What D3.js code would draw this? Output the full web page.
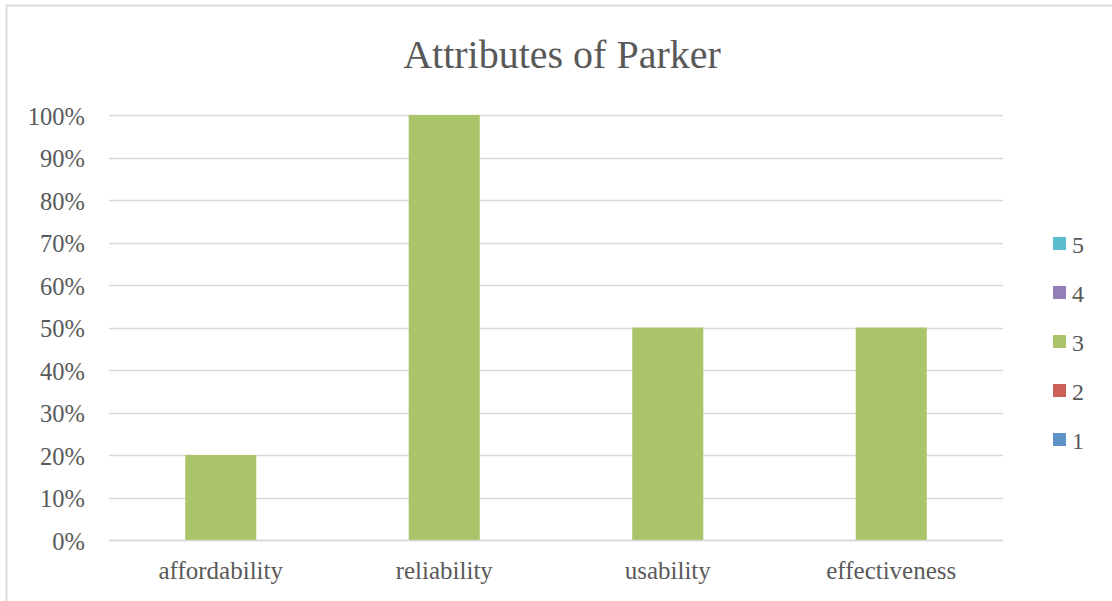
<!DOCTYPE html>
<html>
<head>
<meta charset="utf-8">
<script src="https://cdn.jsdelivr.net/npm/d3@7"></script>
<style>
  html, body { margin: 0; padding: 0; background: #fff; }
  svg { display: block; }
  text { font-family: "Liberation Serif", "DejaVu Serif", serif; fill: #595959; }
</style>
</head>
<body>
<svg id="chart" width="1112" height="601"></svg>
<script>
const title = "Attributes of Parker";
const categories = ["affordability", "reliability", "usability", "effectiveness"];
const seriesNames = ["1", "2", "3", "4", "5"];
const series1 = [0, 0, 0, 0];
const series2 = [0, 0, 0, 0];
const series3 = [0.20, 1.00, 0.50, 0.50];
const series4 = [0, 0, 0, 0];
const series5 = [0, 0, 0, 0];
const yTicks = [0, 0.1, 0.2, 0.3, 0.4, 0.5, 0.6, 0.7, 0.8, 0.9, 1.0];
const colors = ["#5E93C8", "#CC6158", "#AAC46A", "#9480B8", "#5BBCD0"];

const allSeries = [series1, series2, series3, series4, series5];
const rows = categories.map((c, i) => {
  const r = { cat: c };
  seriesNames.forEach((s, j) => r[s] = allSeries[j][i]);
  return r;
});
const stacked = d3.stack().keys(seriesNames)(rows);

const svg = d3.select("#chart");
const W = 1112, H = 601;
const plot = { left: 109, right: 1003, top: 115, bottom: 540 };

// outer border (chart area frame)
svg.append("rect")
  .attr("x", 6.5).attr("y", 5.5)
  .attr("width", W + 10).attr("height", H + 10)
  .attr("fill", "none").attr("stroke", "#dedede").attr("stroke-width", 2);

const x = d3.scaleBand().domain(categories)
  .range([plot.left, plot.right])
  .paddingInner(0.682).paddingOuter(0.341);
const y = d3.scaleLinear().domain([0, 1]).range([plot.bottom, plot.top]);

// gridlines
svg.append("g").selectAll("line").data(yTicks).join("line")
  .attr("x1", plot.left).attr("x2", plot.right)
  .attr("y1", d => Math.round(y(d)) + 0.5).attr("y2", d => Math.round(y(d)) + 0.5)
  .attr("stroke", "#d9d9d9").attr("stroke-width", 1.3);

// y axis labels
const yAxis = d3.axisLeft(y).tickValues(yTicks).tickFormat(d3.format(".0%")).tickSize(0).tickPadding(0);
const yg = svg.append("g").attr("transform", `translate(85,0)`).call(yAxis);
yg.select(".domain").remove();
yg.selectAll("text").attr("font-size", 24.5).attr("font-family", "Liberation Serif").attr("fill", "#595959").attr("dy", "0.38em");

// bars
svg.append("g").selectAll("g").data(stacked).join("g")
  .attr("fill", (d, i) => colors[i])
  .selectAll("rect").data(d => d).join("rect")
  .attr("x", d => x(d.data.cat))
  .attr("width", x.bandwidth())
  .attr("y", d => y(d[1]))
  .attr("height", d => y(d[0]) - y(d[1]));

// x axis baseline
svg.append("line")
  .attr("x1", plot.left).attr("x2", plot.right)
  .attr("y1", Math.round(y(0)) + 0.5).attr("y2", Math.round(y(0)) + 0.5)
  .attr("stroke", "#d9d9d9").attr("stroke-width", 1.3);

// x axis labels
const xAxis = d3.axisBottom(x).tickSize(0).tickPadding(0);
const xg = svg.append("g").attr("transform", `translate(0,${plot.bottom})`).call(xAxis);
xg.select(".domain").remove();
xg.selectAll("text").attr("font-size", 25).attr("font-family", "Liberation Serif").attr("fill", "#595959").attr("dy", "1.55em");

// title
svg.append("text")
  .attr("x", 562).attr("y", 68)
  .attr("text-anchor", "middle")
  .attr("font-size", 40)
  .text(title);

// legend
const legendOrder = seriesNames.map((s, i) => ({ name: s, color: colors[i] })).reverse();
const lg = svg.append("g").selectAll("g").data(legendOrder).join("g")
  .attr("transform", (d, i) => `translate(1053,${237 + i * 49})`);
lg.append("rect").attr("width", 13).attr("height", 13).attr("fill", d => d.color);
lg.append("text").attr("x", 19).attr("y", 16).attr("font-size", 24).text(d => d.name);
</script>
</body>
</html>
